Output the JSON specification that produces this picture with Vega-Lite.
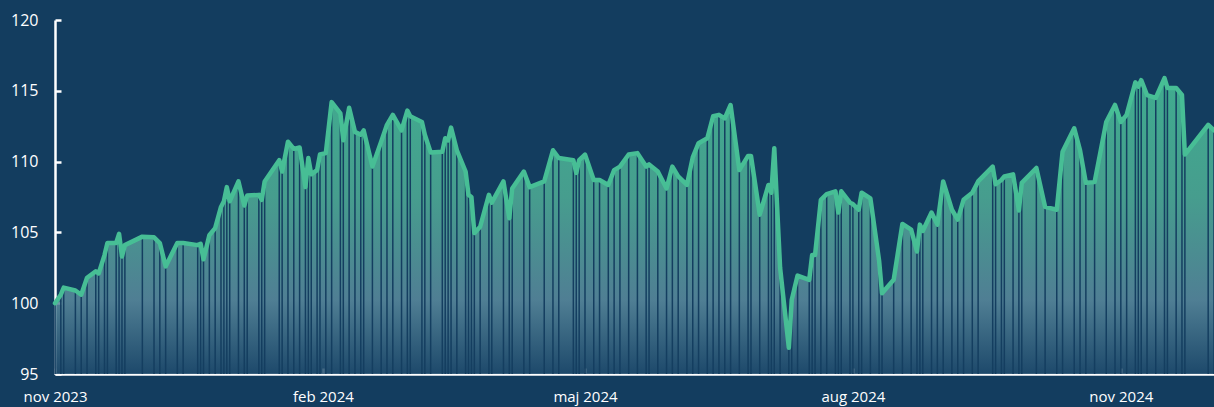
{
  "$schema": "https://vega.github.io/schema/vega-lite/v6.json",
  "width": 1159,
  "height": 354,
  "autosize": {"type": "none"},
  "padding": {"left": 55, "top": 20, "right": 0, "bottom": 33},
  "background": "#133d5f",
  "config": {
    "view": {"stroke": null},
    "axis": {
      "domainColor": "#ffffff",
      "domainWidth": 2.5,
      "tickColor": "#ffffff",
      "tickWidth": 2.5,
      "tickSize": -6,
      "labelColor": "#ffffff",
      "labelFont": "Open Sans",
      "labelFontSize": 16,
      "labelPadding": 23,
      "grid": false,
      "title": null,
      "zindex": 2
    }
  },
  "data": {
    "values": [
      {"date": "2023-11-01", "value": 100.0},
      {"date": "2023-11-03", "value": 100.6},
      {"date": "2023-11-04", "value": 101.1},
      {"date": "2023-11-08", "value": 100.9},
      {"date": "2023-11-10", "value": 100.6},
      {"date": "2023-11-12", "value": 101.8},
      {"date": "2023-11-15", "value": 102.25},
      {"date": "2023-11-16", "value": 102.1},
      {"date": "2023-11-18", "value": 103.4},
      {"date": "2023-11-19", "value": 104.25},
      {"date": "2023-11-22", "value": 104.25},
      {"date": "2023-11-23", "value": 104.9},
      {"date": "2023-11-24", "value": 103.3},
      {"date": "2023-11-25", "value": 104.1},
      {"date": "2023-12-01", "value": 104.7},
      {"date": "2023-12-05", "value": 104.65},
      {"date": "2023-12-07", "value": 104.25},
      {"date": "2023-12-09", "value": 102.6},
      {"date": "2023-12-13", "value": 104.25},
      {"date": "2023-12-15", "value": 104.25},
      {"date": "2023-12-20", "value": 104.1},
      {"date": "2023-12-21", "value": 104.2},
      {"date": "2023-12-22", "value": 103.1},
      {"date": "2023-12-24", "value": 104.8},
      {"date": "2023-12-26", "value": 105.3},
      {"date": "2023-12-28", "value": 106.8},
      {"date": "2023-12-29", "value": 107.2},
      {"date": "2023-12-30", "value": 108.2},
      {"date": "2023-12-31", "value": 107.2},
      {"date": "2024-01-03", "value": 108.6},
      {"date": "2024-01-05", "value": 106.9},
      {"date": "2024-01-06", "value": 107.6},
      {"date": "2024-01-10", "value": 107.65},
      {"date": "2024-01-11", "value": 107.3},
      {"date": "2024-01-12", "value": 108.6},
      {"date": "2024-01-17", "value": 110.1},
      {"date": "2024-01-18", "value": 109.3},
      {"date": "2024-01-20", "value": 111.4},
      {"date": "2024-01-22", "value": 110.9},
      {"date": "2024-01-24", "value": 111.0},
      {"date": "2024-01-26", "value": 108.2},
      {"date": "2024-01-27", "value": 110.25},
      {"date": "2024-01-28", "value": 109.1},
      {"date": "2024-01-30", "value": 109.4},
      {"date": "2024-01-31", "value": 110.5},
      {"date": "2024-02-02", "value": 110.6},
      {"date": "2024-02-04", "value": 114.2},
      {"date": "2024-02-07", "value": 113.4},
      {"date": "2024-02-08", "value": 111.5},
      {"date": "2024-02-10", "value": 113.8},
      {"date": "2024-02-12", "value": 112.1},
      {"date": "2024-02-14", "value": 111.9},
      {"date": "2024-02-15", "value": 112.2},
      {"date": "2024-02-18", "value": 109.65},
      {"date": "2024-02-21", "value": 111.4},
      {"date": "2024-02-23", "value": 112.6},
      {"date": "2024-02-25", "value": 113.3},
      {"date": "2024-02-28", "value": 112.2},
      {"date": "2024-03-01", "value": 113.6},
      {"date": "2024-03-02", "value": 113.2},
      {"date": "2024-03-06", "value": 112.8},
      {"date": "2024-03-07", "value": 111.9},
      {"date": "2024-03-09", "value": 110.65},
      {"date": "2024-03-13", "value": 110.7},
      {"date": "2024-03-14", "value": 111.65},
      {"date": "2024-03-15", "value": 111.5},
      {"date": "2024-03-16", "value": 112.4},
      {"date": "2024-03-18", "value": 110.8},
      {"date": "2024-03-21", "value": 109.3},
      {"date": "2024-03-22", "value": 107.65},
      {"date": "2024-03-23", "value": 107.5},
      {"date": "2024-03-24", "value": 104.95},
      {"date": "2024-03-26", "value": 105.4},
      {"date": "2024-03-29", "value": 107.65},
      {"date": "2024-03-30", "value": 107.1},
      {"date": "2024-04-03", "value": 108.6},
      {"date": "2024-04-05", "value": 106.0},
      {"date": "2024-04-06", "value": 108.1},
      {"date": "2024-04-10", "value": 109.3},
      {"date": "2024-04-12", "value": 108.2},
      {"date": "2024-04-17", "value": 108.6},
      {"date": "2024-04-20", "value": 110.8},
      {"date": "2024-04-22", "value": 110.25},
      {"date": "2024-04-27", "value": 110.1},
      {"date": "2024-04-28", "value": 109.2},
      {"date": "2024-04-29", "value": 110.1},
      {"date": "2024-05-01", "value": 110.5},
      {"date": "2024-05-04", "value": 108.7},
      {"date": "2024-05-06", "value": 108.7},
      {"date": "2024-05-09", "value": 108.35},
      {"date": "2024-05-11", "value": 109.4},
      {"date": "2024-05-13", "value": 109.65},
      {"date": "2024-05-16", "value": 110.5},
      {"date": "2024-05-19", "value": 110.6},
      {"date": "2024-05-22", "value": 109.65},
      {"date": "2024-05-23", "value": 109.8},
      {"date": "2024-05-26", "value": 109.3},
      {"date": "2024-05-29", "value": 108.1},
      {"date": "2024-05-31", "value": 109.65},
      {"date": "2024-06-02", "value": 108.95},
      {"date": "2024-06-05", "value": 108.35},
      {"date": "2024-06-07", "value": 110.3},
      {"date": "2024-06-09", "value": 111.3},
      {"date": "2024-06-12", "value": 111.65},
      {"date": "2024-06-14", "value": 113.2},
      {"date": "2024-06-16", "value": 113.3},
      {"date": "2024-06-18", "value": 113.05},
      {"date": "2024-06-20", "value": 114.0},
      {"date": "2024-06-23", "value": 109.4},
      {"date": "2024-06-26", "value": 110.4},
      {"date": "2024-06-27", "value": 110.4},
      {"date": "2024-06-30", "value": 106.25},
      {"date": "2024-07-03", "value": 108.35},
      {"date": "2024-07-04", "value": 107.8},
      {"date": "2024-07-05", "value": 110.95},
      {"date": "2024-07-07", "value": 102.5},
      {"date": "2024-07-10", "value": 96.85},
      {"date": "2024-07-11", "value": 100.25},
      {"date": "2024-07-13", "value": 101.95},
      {"date": "2024-07-17", "value": 101.65},
      {"date": "2024-07-18", "value": 103.4},
      {"date": "2024-07-19", "value": 103.4},
      {"date": "2024-07-21", "value": 107.3},
      {"date": "2024-07-23", "value": 107.7},
      {"date": "2024-07-26", "value": 107.9},
      {"date": "2024-07-27", "value": 106.4},
      {"date": "2024-07-28", "value": 107.9},
      {"date": "2024-07-31", "value": 107.1},
      {"date": "2024-08-01", "value": 107.0},
      {"date": "2024-08-03", "value": 106.6},
      {"date": "2024-08-04", "value": 107.8},
      {"date": "2024-08-07", "value": 107.4},
      {"date": "2024-08-10", "value": 103.0},
      {"date": "2024-08-11", "value": 100.7},
      {"date": "2024-08-15", "value": 101.65},
      {"date": "2024-08-18", "value": 105.6},
      {"date": "2024-08-21", "value": 105.2},
      {"date": "2024-08-23", "value": 103.65},
      {"date": "2024-08-24", "value": 105.55},
      {"date": "2024-08-25", "value": 105.1},
      {"date": "2024-08-28", "value": 106.4},
      {"date": "2024-08-30", "value": 105.55},
      {"date": "2024-09-01", "value": 108.6},
      {"date": "2024-09-04", "value": 106.6},
      {"date": "2024-09-06", "value": 105.9},
      {"date": "2024-09-08", "value": 107.3},
      {"date": "2024-09-11", "value": 107.8},
      {"date": "2024-09-13", "value": 108.6},
      {"date": "2024-09-18", "value": 109.65},
      {"date": "2024-09-19", "value": 108.4},
      {"date": "2024-09-21", "value": 108.7},
      {"date": "2024-09-22", "value": 108.95},
      {"date": "2024-09-25", "value": 109.1},
      {"date": "2024-09-27", "value": 106.55},
      {"date": "2024-09-28", "value": 108.5},
      {"date": "2024-10-03", "value": 109.55},
      {"date": "2024-10-06", "value": 106.8},
      {"date": "2024-10-10", "value": 106.6},
      {"date": "2024-10-12", "value": 110.7},
      {"date": "2024-10-16", "value": 112.35},
      {"date": "2024-10-18", "value": 110.8},
      {"date": "2024-10-20", "value": 108.5},
      {"date": "2024-10-23", "value": 108.55},
      {"date": "2024-10-27", "value": 112.8},
      {"date": "2024-10-30", "value": 114.0},
      {"date": "2024-11-01", "value": 112.8},
      {"date": "2024-11-03", "value": 113.3},
      {"date": "2024-11-06", "value": 115.6},
      {"date": "2024-11-07", "value": 115.3},
      {"date": "2024-11-08", "value": 115.75},
      {"date": "2024-11-10", "value": 114.7},
      {"date": "2024-11-13", "value": 114.5},
      {"date": "2024-11-16", "value": 115.9},
      {"date": "2024-11-17", "value": 115.2},
      {"date": "2024-11-20", "value": 115.2},
      {"date": "2024-11-22", "value": 114.7},
      {"date": "2024-11-23", "value": 110.5},
      {"date": "2024-12-01", "value": 112.6},
      {"date": "2024-12-03", "value": 112.2}
    ]
  },
  "encoding": {
    "x": {
      "field": "date",
      "type": "temporal",
      "scale": {
        "type": "utc",
        "domain": [
          {"year": 2023, "month": 11, "date": 1, "utc": true},
          {"year": 2024, "month": 12, "date": 3, "utc": true}
        ]
      },
      "axis": {
        "values": [
          {"year": 2023, "month": 11, "date": 1, "utc": true},
          {"year": 2024, "month": 2, "date": 1, "utc": true},
          {"year": 2024, "month": 5, "date": 1, "utc": true},
          {"year": 2024, "month": 8, "date": 1, "utc": true},
          {"year": 2024, "month": 11, "date": 1, "utc": true}
        ],
        "labelExpr": "['jan','feb','mar','apr','maj','jun','jul','aug','sep','okt','nov','dec'][utcmonth(datum.value)] + ' ' + utcyear(datum.value)",
        "labelFlush": false,
        "labelOverlap": false,
        "labelFontSize": 15,
        "labelPadding": 21
      }
    },
    "y": {
      "field": "value",
      "type": "quantitative",
      "scale": {"domain": [95, 120], "zero": false, "nice": false},
      "axis": {"values": [95, 100, 105, 110, 115, 120]}
    }
  },
  "layer": [
    {
      "mark": {
        "type": "area",
        "fillOpacity": 0.85,
        "fill": {
          "gradient": "linear",
          "x1": 0, "y1": 0, "x2": 0, "y2": 1,
          "stops": [
            {"offset": 0, "color": "#48bf97"},
            {"offset": 0.4, "color": "#4fae96"},
            {"offset": 0.75, "color": "#5a8a9d"},
            {"offset": 1, "color": "#1f4b6d"}
          ]
        }
      },
      "encoding": {"y2": {"datum": 95}}
    },
    {
      "mark": {"type": "rule", "color": "#143e60", "strokeWidth": 1.5},
      "encoding": {"y2": {"datum": 95}}
    },
    {
      "mark": {"type": "line", "color": "#47be95", "strokeWidth": 4.5, "strokeJoin": "round", "strokeCap": "round"}
    }
  ]
}
